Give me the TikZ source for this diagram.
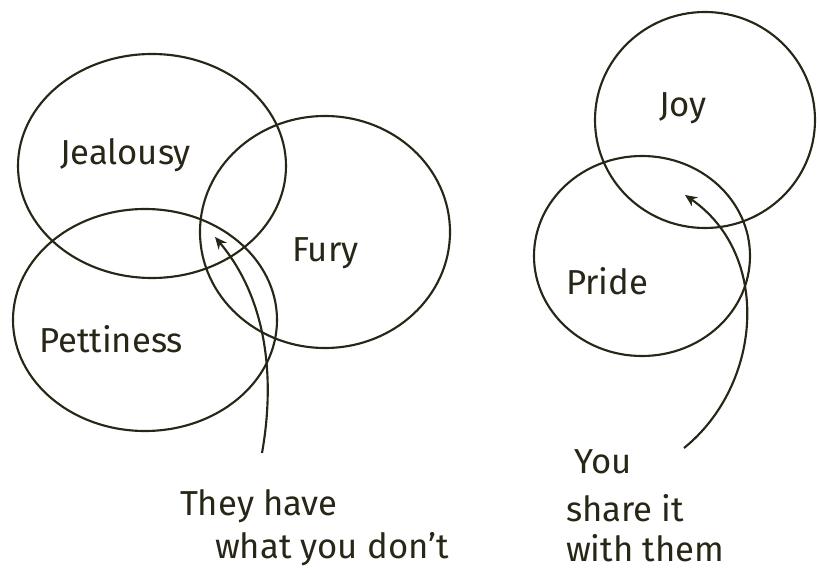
\documentclass[tikz,border=0pt]{standalone}
\usepackage{fontspec}
\setmainfont{Fira Sans}
\usetikzlibrary{arrows.meta}
\definecolor{ink}{RGB}{40,38,22}

\tikzset{every picture/.style={line width=1.6pt}}
\tikzset{
  ring/.style={draw=ink},
  lbl/.style={anchor=base west,inner sep=0.75pt,text=ink,font=\fontsize{26}{32}\selectfont},
  pointer/.style={draw=ink,-{Stealth[length=9pt,width=8pt]}}
}

\begin{document}
\begin{tikzpicture}[x=0.75pt,y=0.75pt,yscale=-1,xscale=1]
\useasboundingbox (0,0) rectangle (817,573);

%Shape: Ellipse
\draw [ring] (152,166) ellipse (134 and 112);
%Shape: Ellipse
\draw [ring] (325,232) ellipse (125 and 116);
%Shape: Ellipse
\draw [ring] (145,320) ellipse (132 and 111);
%Shape: Ellipse
\draw [ring] (705,120) ellipse (110 and 108);
%Shape: Ellipse
\draw [ring] (642,256) ellipse (108 and 100);

% Text Node
\node [lbl] (jealousy) at (58,165) {Jealousy};
% Text Node
\node [lbl] (fury) at (290,262) {Fury};
% Text Node
\node [lbl] (pettiness) at (37,353) {Pettiness};
% Text Node
\node [lbl] (joy) at (657,117) {Joy};
% Text Node
\node [lbl] (pride) at (564,295) {Pride};
% Text Node
\node [lbl] (have1) at (178,515) {They have};
\node [lbl] (have2) at (213,558) {what you don't};
% Text Node
\node [lbl] (share1) at (572,473) {You};
\node [lbl] (share2) at (564,521) {share it};
\node [lbl] (share3) at (564,561) {with them};

%Curve Lines
\coordinate (envyfrom) at (262,453);
\coordinate (envyto) at (215,237);
\draw [pointer] (envyfrom) .. controls (275,380) and (268,300) .. (envyto);
%Curve Lines
\coordinate (sharefrom) at (684,448);
\coordinate (shareto) at (685,195);
\draw [pointer] (sharefrom) .. controls (762,385) and (772,255) .. (shareto);

\end{tikzpicture}
\end{document}
